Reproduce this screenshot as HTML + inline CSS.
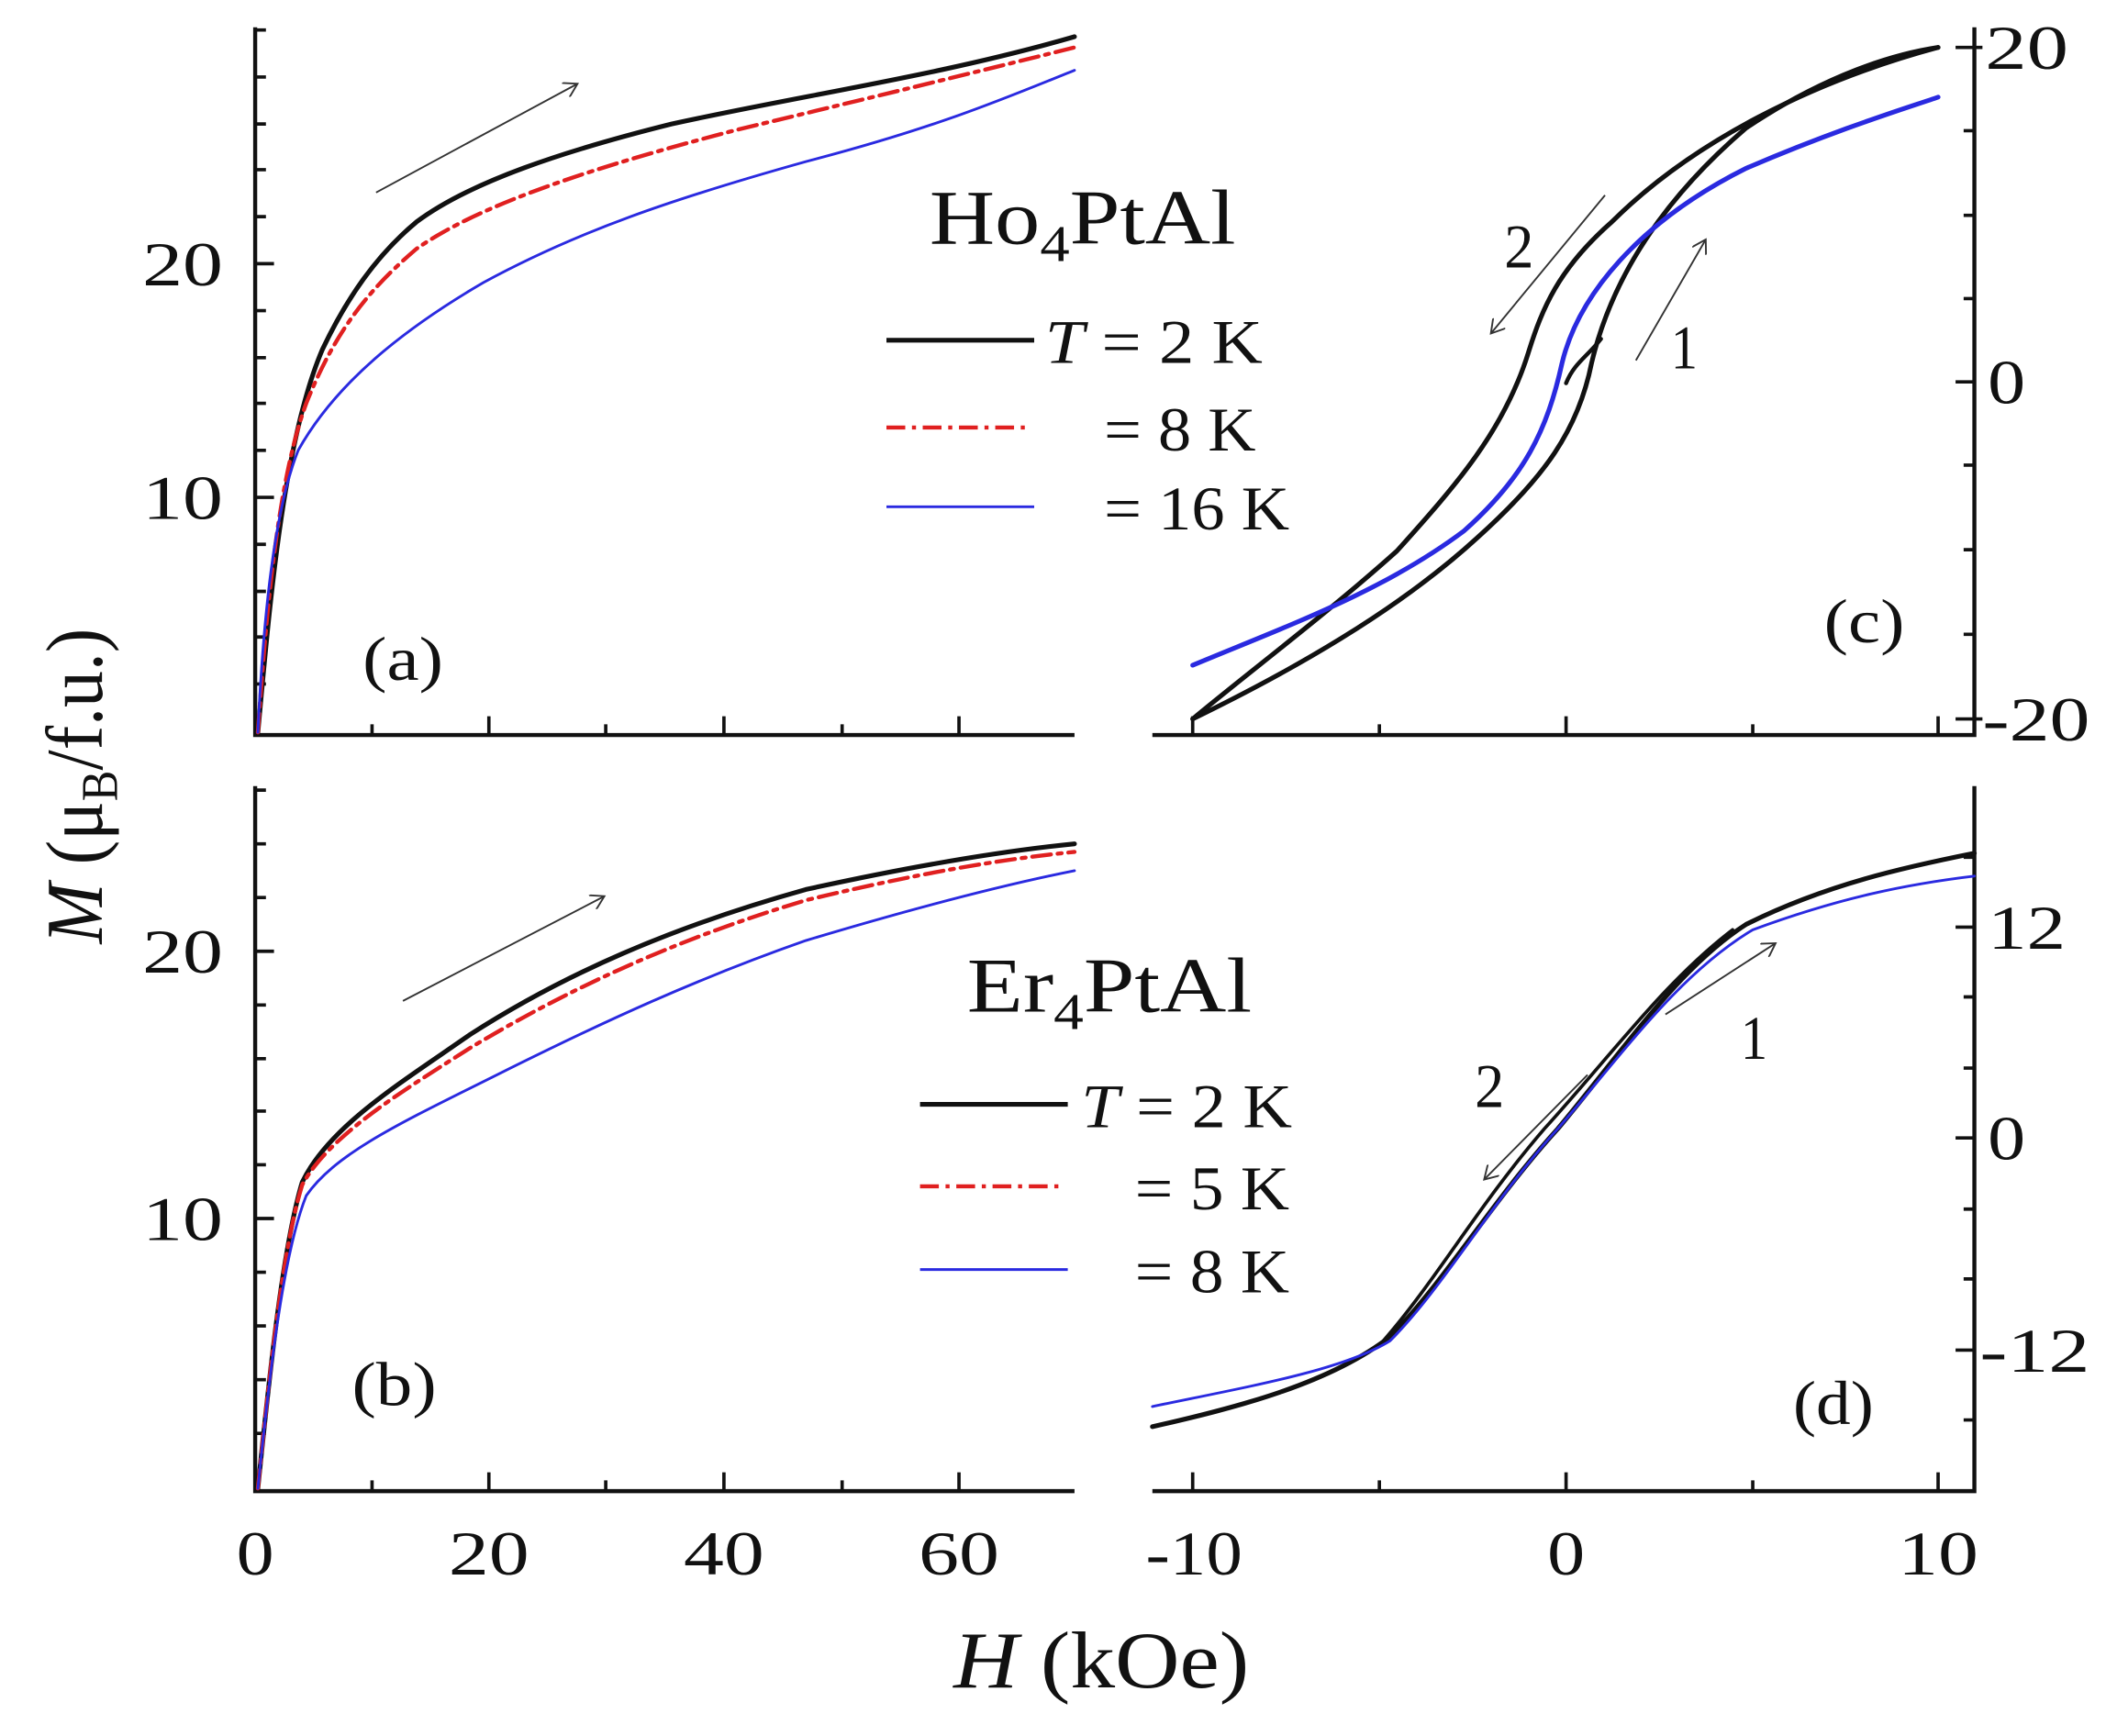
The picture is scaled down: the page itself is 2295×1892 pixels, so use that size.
<!DOCTYPE html>
<html><head><meta charset="utf-8"><style>
html,body{margin:0;padding:0;background:#fff;}
svg{display:block;}
text{font-family:"Liberation Serif",serif;fill:#111;}
</style></head><body>
<svg width="2295" height="1892" viewBox="0 0 1568 1292" xmlns="http://www.w3.org/2000/svg">
<defs>
<marker id="ah" markerWidth="12" markerHeight="12" refX="10" refY="6" orient="auto" markerUnits="userSpaceOnUse">
<path d="M0,0 L10,6 L0,12" fill="none" stroke="#333" stroke-width="1.3"/></marker>
</defs>
<g stroke="#111" stroke-width="3" fill="none">
<path d="M190,20 V547 H800"/>
<path d="M190,585 V1110 H800"/>
<path d="M858,547 H1470 V20"/>
<path d="M858,1110 H1470 V585"/>
</g>
<g stroke="#111" stroke-width="2.5">
<path d="M190,370h14M190,196h14M190,509h8M190,474h8M190,440h8M190,405h8M190,335h8M190,300h8M190,266h8M190,231h8M190,161h8M190,126h8M190,92h8M190,57h8M190,22h8"/>
<path d="M364,547v-14M539,547v-14M714,547v-14M277,547v-8M451,547v-8M627,547v-8"/>
<path d="M190,907h14M190,708h14M190,1067h8M190,1027h8M190,987h8M190,947h8M190,867h8M190,827h8M190,788h8M190,748h8M190,668h8M190,628h8M190,588h8"/>
<path d="M364,1110v-14M539,1110v-14M714,1110v-14M277,1110v-8M451,1110v-8M627,1110v-8"/>
<path d="M888,547v-14M1166,547v-14M1443,547v-14M1027,547v-8M1305,547v-8"/>
<path d="M1470,35h-14M1470,284h-14M1470,535h-14M1470,97h-8M1470,160h-8M1470,222h-8M1470,346h-8M1470,409h-8M1470,472h-8M1470,35h6M1470,535h6"/>
<path d="M888,1110v-14M1166,1110v-14M1443,1110v-14M1027,1110v-8M1305,1110v-8"/>
<path d="M1470,690h-14M1470,847h-14M1470,1005h-14M1470,638h-8M1470,742h-8M1470,795h-8M1470,900h-8M1470,952h-8M1470,1057h-8"/>
</g>
<g fill="none" stroke-linecap="round">
<path d="M192,545 C200,460 210,330 240,260 C258,222 280,190 310,165 C350,135 420,112 500,92 C600,70 700,56 800,27" stroke="#111" stroke-width="3.5"/>
<path d="M192,545 C198,460 206,360 228,300 C250,245 275,215 310,185 C360,150 450,122 550,96 C650,72 720,55 800,35" stroke="#e02020" stroke-width="3" stroke-dasharray="14,5,3,5"/>
<path d="M192,545 C196,460 204,380 222,335 C250,285 300,245 360,210 C430,172 500,148 600,120 C700,94 750,72 800,52" stroke="#2a2ae0" stroke-width="2"/>
<path d="M192,1108 C200,1030 210,930 225,880 C245,838 300,805 350,770 C420,725 500,690 600,662 C700,640 760,632 800,628" stroke="#111" stroke-width="3.5"/>
<path d="M192,1108 C200,1030 210,930 225,882 C245,845 300,812 350,780 C420,738 500,700 600,670 C700,646 760,638 800,634" stroke="#e02020" stroke-width="3" stroke-dasharray="14,5,3,5"/>
<path d="M192,1108 C200,1030 210,935 228,890 C250,858 300,835 370,800 C450,760 520,728 600,700 C700,670 760,656 800,648" stroke="#2a2ae0" stroke-width="2"/>
<path d="M1443,35 C1350,60 1260,105 1200,165 C1160,200 1148,230 1138,262 C1120,320 1085,360 1040,410 C990,455 930,500 888,535" stroke="#111" stroke-width="3.5"/>
<path d="M888,535 C960,500 1040,455 1100,400 C1150,355 1175,320 1185,270 C1198,215 1230,155 1300,95 C1360,55 1410,40 1443,35" stroke="#111" stroke-width="3.5"/>
<path d="M1166,285 C1172,270 1182,265 1192,252" stroke="#111" stroke-width="3"/>
<path d="M888,495 C960,465 1030,440 1090,395 C1135,355 1152,320 1163,270 C1175,220 1220,165 1300,125 C1370,95 1420,80 1443,72" stroke="#2a2ae0" stroke-width="3.5"/>
<path d="M858,1062 C920,1048 990,1030 1035,995 C1075,955 1110,895 1160,840 C1210,780 1250,720 1300,688 C1360,658 1420,645 1470,635" stroke="#111" stroke-width="3.5"/>
<path d="M1030,998 C1070,952 1100,898 1150,840 C1200,785 1240,730 1290,692" stroke="#111" stroke-width="2.5"/>
<path d="M858,1047 C930,1032 1000,1020 1035,998 C1075,958 1110,895 1160,840 C1210,782 1250,725 1305,692 C1370,668 1420,658 1470,652" stroke="#2a2ae0" stroke-width="2"/>
</g>
<g stroke="#333" stroke-width="1.3" fill="none" marker-end="url(#ah)">
<path d="M280,143 L430,62"/>
<path d="M300,745 L450,667"/>
<path d="M1195,145 L1110,248"/>
<path d="M1218,268 L1270,178"/>
<path d="M1182,800 L1105,878"/>
<path d="M1240,755 L1322,702"/>
</g>
<g stroke-width="3.5">
<line x1="660" y1="253" x2="770" y2="253" stroke="#111"/>
<line x1="660" y1="318" x2="765" y2="318" stroke="#e02020" stroke-width="3" stroke-dasharray="14,5,3,5"/>
<line x1="660" y1="377" x2="770" y2="377" stroke="#2a2ae0" stroke-width="2"/>
<line x1="685" y1="822" x2="795" y2="822" stroke="#111"/>
<line x1="685" y1="883" x2="790" y2="883" stroke="#e02020" stroke-width="3" stroke-dasharray="14,5,3,5"/>
<line x1="685" y1="945" x2="795" y2="945" stroke="#2a2ae0" stroke-width="2"/>
</g>
<g font-size="46">
<text x="778" y="270" textLength="162" lengthAdjust="spacingAndGlyphs"><tspan font-style="italic">T</tspan> = 2 K</text>
<text x="822" y="335" textLength="113" lengthAdjust="spacingAndGlyphs">= 8 K</text>
<text x="822" y="394" textLength="138" lengthAdjust="spacingAndGlyphs">= 16 K</text>
<text x="805" y="839" textLength="157" lengthAdjust="spacingAndGlyphs"><tspan font-style="italic">T</tspan> = 2 K</text>
<text x="845" y="900" textLength="115" lengthAdjust="spacingAndGlyphs">= 5 K</text>
<text x="845" y="962" textLength="115" lengthAdjust="spacingAndGlyphs">= 8 K</text>
<text x="692" y="181" font-size="58" textLength="228" lengthAdjust="spacingAndGlyphs">Ho<tspan font-size="38" dy="13">4</tspan><tspan dy="-13">PtAl</tspan></text>
<text x="720" y="753" font-size="58" textLength="212" lengthAdjust="spacingAndGlyphs">Er<tspan font-size="38" dy="13">4</tspan><tspan dy="-13">PtAl</tspan></text>
<text x="270" y="506" textLength="60" lengthAdjust="spacingAndGlyphs">(a)</text>
<text x="262" y="1046" textLength="63" lengthAdjust="spacingAndGlyphs">(b)</text>
<text x="1358" y="478" textLength="60" lengthAdjust="spacingAndGlyphs">(c)</text>
<text x="1335" y="1060" textLength="60" lengthAdjust="spacingAndGlyphs">(d)</text>
<text x="1120" y="199" textLength="22" lengthAdjust="spacingAndGlyphs">2</text>
<text x="1244" y="274" textLength="20" lengthAdjust="spacingAndGlyphs">1</text>
<text x="1098" y="824" textLength="22" lengthAdjust="spacingAndGlyphs">2</text>
<text x="1296" y="788" textLength="20" lengthAdjust="spacingAndGlyphs">1</text>
<text x="106" y="386" textLength="60" lengthAdjust="spacingAndGlyphs">10</text>
<text x="106" y="212" textLength="60" lengthAdjust="spacingAndGlyphs">20</text>
<text x="106" y="923" textLength="60" lengthAdjust="spacingAndGlyphs">10</text>
<text x="106" y="724" textLength="60" lengthAdjust="spacingAndGlyphs">20</text>
<text x="176" y="1172" textLength="28" lengthAdjust="spacingAndGlyphs">0</text>
<text x="334" y="1172" textLength="60" lengthAdjust="spacingAndGlyphs">20</text>
<text x="509" y="1172" textLength="60" lengthAdjust="spacingAndGlyphs">40</text>
<text x="684" y="1172" textLength="60" lengthAdjust="spacingAndGlyphs">60</text>
<text x="853" y="1172" textLength="72" lengthAdjust="spacingAndGlyphs">-10</text>
<text x="1152" y="1172" textLength="28" lengthAdjust="spacingAndGlyphs">0</text>
<text x="1413" y="1172" textLength="60" lengthAdjust="spacingAndGlyphs">10</text>
<text x="1478" y="51" textLength="62" lengthAdjust="spacingAndGlyphs">20</text>
<text x="1480" y="300" textLength="28" lengthAdjust="spacingAndGlyphs">0</text>
<text x="1476" y="551" textLength="80" lengthAdjust="spacingAndGlyphs">-20</text>
<text x="1480" y="706" textLength="58" lengthAdjust="spacingAndGlyphs">12</text>
<text x="1480" y="863" textLength="28" lengthAdjust="spacingAndGlyphs">0</text>
<text x="1474" y="1021" textLength="82" lengthAdjust="spacingAndGlyphs">-12</text>
</g>
<text x="710" y="1256" font-size="60" textLength="220" lengthAdjust="spacingAndGlyphs"><tspan font-style="italic">H</tspan> (kOe)</text>
<text transform="translate(76,585) rotate(-90)" font-size="60" text-anchor="middle" textLength="235" lengthAdjust="spacingAndGlyphs"><tspan font-style="italic">M</tspan> (μ<tspan font-size="38" dy="11">B</tspan><tspan dy="-11">/f.u.)</tspan></text>
</svg>
</body></html>
